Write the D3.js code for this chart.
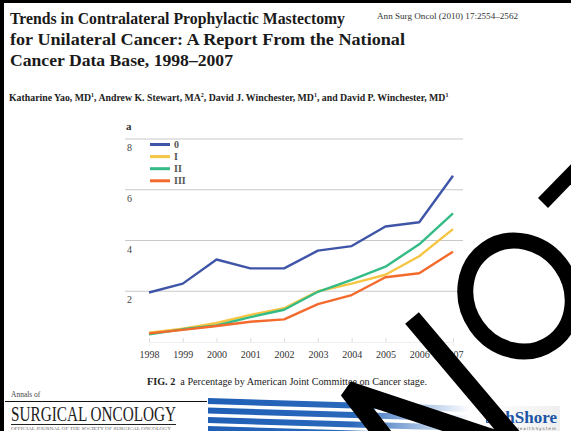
<!DOCTYPE html>
<html>
<head>
<meta charset="UTF-8">
<title>Trends in CPM by stage</title>
<script src="https://d3js.org/d3.v7.min.js"></script>
<style>
body { margin: 0; background: #fff; }
svg { display: block; }
</style>
</head>
<body>
<script>
/* chart data (percent CPM by AJCC stage) */
var years = ['1998', '1999', '2000', '2001', '2002', '2003', '2004', '2005', '2006', '2007']
var stages = ['0', 'I', 'II', 'III']
var stage0 = [1.95, 2.3, 3.25, 2.9, 2.9, 3.6, 3.78, 4.55, 4.72, 6.55]
var stage1 = [0.37, 0.52, 0.75, 1.07, 1.33, 2.0, 2.3, 2.65, 3.38, 4.45]
var stage2 = [0.3, 0.5, 0.65, 0.98, 1.27, 1.98, 2.45, 2.97, 3.85, 5.07]
var stage3 = [0.34, 0.48, 0.63, 0.8, 0.89, 1.49, 1.85, 2.55, 2.71, 3.56]
var yTicks = [2, 4, 6, 8]
var colors = ['#3f55a8', '#f7c544', '#35bb85', '#f36a2c']

var W = 571, H = 431
var serif = 'Liberation Serif, Times New Roman, serif'

var svg = d3.select('body').append('svg')
	.attr('width', W)
	.attr('height', H)

svg.append('rect').attr('width', W).attr('height', H).attr('fill', '#fff')

/* black frame of the scanned page */
svg.append('rect').attr('x', 0).attr('y', 0).attr('width', W).attr('height', 3).attr('fill', '#000')
svg.append('rect').attr('x', 0).attr('y', 0).attr('width', 4).attr('height', H).attr('fill', '#000')

/* article header - widths matched to the scan */
var title = ['Trends in Contralateral Prophylactic Mastectomy',
	'for Unilateral Cancer: A Report From the National',
	'Cancer Data Base, 1998\u20132007']
var titleWidths = [335, 395, 223]
svg.selectAll('text.title')
	.data(title)
	.enter()
	.append('text')
	.attr('class', 'title')
	.attr('x', 10)
	.attr('y', function(d, i) { return 24 + i * 21 })
	.attr('font-family', serif)
	.attr('font-weight', 'bold')
	.attr('font-size', 17.5)
	.attr('fill', '#1a1a1a')
	.attr('textLength', function(d, i) { return titleWidths[i] })
	.attr('lengthAdjust', 'spacingAndGlyphs')
	.text(function(d) { return d })

svg.append('text')
	.attr('x', 377).attr('y', 19)
	.attr('font-family', serif).attr('font-size', 8.6).attr('fill', '#333')
	.attr('textLength', 141).attr('lengthAdjust', 'spacingAndGlyphs')
	.text('Ann Surg Oncol (2010) 17:2554\u20132562')

var authors = svg.append('text')
	.attr('x', 9).attr('y', 101)
	.attr('font-family', serif).attr('font-size', 9.8).attr('font-weight', 'bold')
	.attr('fill', '#222')
var parts = [['Katharine Yao, MD', '1'], [', Andrew K. Stewart, MA', '2'],
	[', David J. Winchester, MD', '1'], [', and David P. Winchester, MD', '1']]
parts.forEach(function(p, i) {
	authors.append('tspan').attr('dy', i == 0 ? 0 : 4).text(p[0])
	authors.append('tspan').attr('dy', -4).attr('font-size', 6).text(p[1])
})

/* the figure */
var x = d3.scalePoint().domain(years).range([149, 453])
var y = d3.scaleLinear().domain([0, 8]).range([342, 139])

svg.append('text')
	.attr('x', 126).attr('y', 130)
	.attr('font-family', serif).attr('font-weight', 'bold').attr('font-size', 11)
	.attr('fill', '#333')
	.text('a')

var grid = svg.append('g')
grid.selectAll('line')
	.data(yTicks)
	.enter()
	.append('line')
	.attr('x1', 125).attr('x2', 463)
	.attr('y1', function(d) { return y(d) })
	.attr('y2', function(d) { return y(d) })
	.attr('stroke', '#c9c9c9')
	.attr('stroke-width', 1)
grid.selectAll('text')
	.data(yTicks)
	.enter()
	.append('text')
	.attr('x', 127)
	.attr('y', function(d) { return y(d) + 12 })
	.attr('font-family', serif).attr('font-size', 10).attr('fill', '#444')
	.text(function(d) { return d })

/* faint x axis with year labels */
var xAxis = svg.append('g')
	.attr('transform', 'translate(0,' + y(0) + ')')
	.call(d3.axisBottom(x).tickSize(4).tickPadding(5))
xAxis.select('.domain').attr('stroke', '#eee')
xAxis.selectAll('.tick line').attr('stroke', '#ddd').attr('transform', 'translate(0,-4)')
xAxis.selectAll('.tick text')
	.attr('font-family', serif).attr('font-size', 10).attr('fill', '#333')

var series = [stage0, stage1, stage2, stage3]
var line = d3.line()
	.x(function(d, i) { return x(years[i]) })
	.y(function(d) { return y(d) })

svg.selectAll('path.series')
	.data(series)
	.enter()
	.append('path')
	.attr('class', 'series')
	.attr('d', line)
	.attr('fill', 'none')
	.attr('stroke', function(d, i) { return colors[i] })
	.attr('stroke-width', 2.4)
	.attr('stroke-linejoin', 'round')

/* legend */
var legend = svg.append('g')
legend.selectAll('line')
	.data(stages)
	.enter()
	.append('line')
	.attr('x1', 150).attr('x2', 170)
	.attr('y1', function(d, i) { return 144.5 + i * 12.1 })
	.attr('y2', function(d, i) { return 144.5 + i * 12.1 })
	.attr('stroke', function(d, i) { return colors[i] })
	.attr('stroke-width', 3)
legend.selectAll('text')
	.data(stages)
	.enter()
	.append('text')
	.attr('x', 174)
	.attr('y', function(d, i) { return 148 + i * 12.1 })
	.attr('font-family', serif).attr('font-size', 10).attr('font-weight', 'bold')
	.attr('fill', '#555')
	.text(function(d) { return d })

/* caption */
var cap = svg.append('text')
	.attr('x', 147).attr('y', 385)
	.attr('font-family', serif).attr('font-size', 10).attr('fill', '#222')
	.attr('textLength', 280).attr('lengthAdjust', 'spacingAndGlyphs')
cap.append('tspan').attr('font-weight', 'bold').text('FIG. 2')
cap.append('tspan').text('\u2002a Percentage by American Joint Committee on Cancer stage.')

/* journal footer, left */
svg.append('text')
	.attr('x', 11).attr('y', 397)
	.attr('font-family', serif).attr('font-size', 7.5).attr('fill', '#444')
	.text('Annals of')
svg.append('line').attr('x1', 5).attr('x2', 207).attr('y1', 401.5).attr('y2', 401.5)
	.attr('stroke', '#111').attr('stroke-width', 1)
svg.append('text')
	.attr('x', 11).attr('y', 421)
	.attr('font-family', serif).attr('font-size', 21).attr('fill', '#222')
	.attr('textLength', 165).attr('lengthAdjust', 'spacingAndGlyphs')
	.text('SURGICAL ONCOLOGY')
svg.append('line').attr('x1', 11).attr('x2', 176).attr('y1', 424.5).attr('y2', 424.5)
	.attr('stroke', '#222').attr('stroke-width', 1)
svg.append('text')
	.attr('x', 11).attr('y', 430)
	.attr('font-family', serif).attr('font-size', 4.5).attr('fill', '#666')
	.attr('textLength', 160).attr('lengthAdjust', 'spacingAndGlyphs')
	.text('OFFICIAL JOURNAL OF THE SOCIETY OF SURGICAL ONCOLOGY')

/* advert banner stripes with fade */
var defs = svg.append('defs')
var grad = defs.append('linearGradient').attr('id', 'fade')
	.attr('x1', 0).attr('x2', 1).attr('y1', 0).attr('y2', 0)
grad.append('stop').attr('offset', '0%').attr('stop-color', '#1f5fb5')
grad.append('stop').attr('offset', '55%').attr('stop-color', '#2a68bb')
grad.append('stop').attr('offset', '100%').attr('stop-color', '#fff')
var stripes = svg.append('g')
;[398, 407.5, 417, 426].forEach(function(y0) {
	stripes.append('path')
		.attr('d', 'M208,' + y0 + 'L470,' + (y0 + 8) + 'L470,' + (y0 + 14) + 'L208,' + (y0 + 6) + 'Z')
		.attr('fill', 'url(#fade)')
})
var grey = defs.append('linearGradient').attr('id', 'greybox')
	.attr('x1', 0).attr('x2', 1).attr('y1', 0).attr('y2', 0)
grey.append('stop').attr('offset', '0%').attr('stop-color', '#fff')
grey.append('stop').attr('offset', '100%').attr('stop-color', '#efefef')
svg.append('rect').attr('x', 480).attr('y', 406).attr('width', 80).attr('height', 25).attr('fill', 'url(#greybox)')
/* logo is only partly visible behind the stamp */
defs.append('clipPath').attr('id', 'logoclip')
	.append('rect').attr('x', 486).attr('y', 400).attr('width', 85).attr('height', 31)
var logo = svg.append('g').attr('clip-path', 'url(#logoclip)')
logo.append('text')
	.attr('x', 557).attr('y', 423).attr('text-anchor', 'end')
	.attr('font-family', serif).attr('font-size', 17).attr('font-weight', 'bold').attr('fill', '#1d55a6')
	.text('NorthShore')
logo.append('text')
	.attr('x', 557).attr('y', 430).attr('text-anchor', 'end')
	.attr('font-family', 'DejaVu Sans, sans-serif').attr('font-size', 4.2).attr('fill', '#666')
	.attr('letter-spacing', 1)
	.text('University HealthSystem')

/* big hand-drawn "NO" stamped over the page */
var stamp = svg.append('g').attr('fill', 'none').attr('stroke', '#000')
stamp.append('path')
	.attr('d', 'M410,470L348,390L522,448L412,318')
	.attr('stroke-width', 18)
	.attr('stroke-linejoin', 'bevel')
stamp.append('ellipse')
	.attr('cx', 519).attr('cy', 296).attr('rx', 52).attr('ry', 57)
	.attr('transform', 'rotate(-35,519,296)')
	.attr('stroke-width', 16)
stamp.append('path')
	.attr('d', 'M543,203L585,160')
	.attr('stroke-width', 14)
</script>
</body>
</html>
